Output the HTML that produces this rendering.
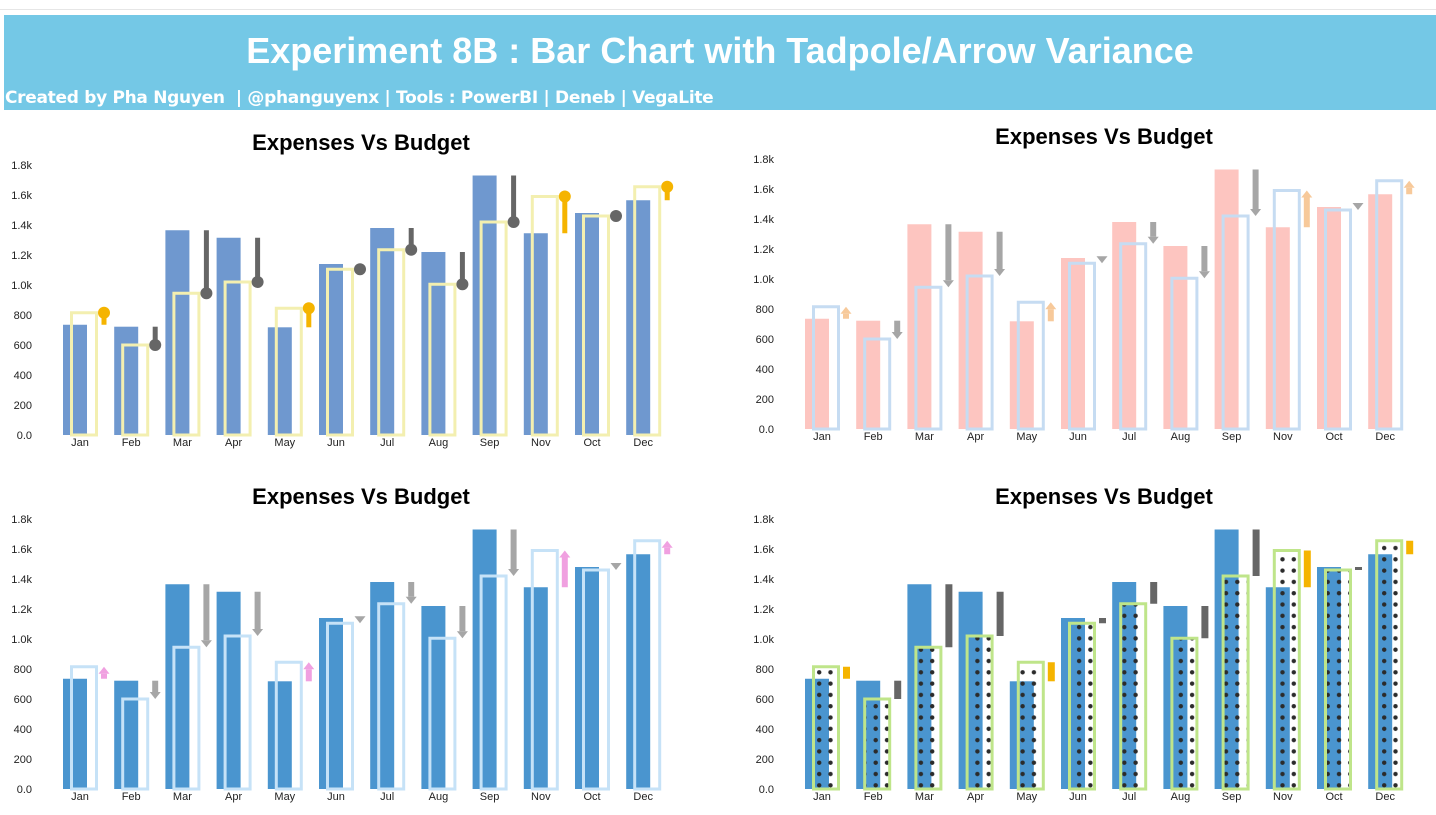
<!DOCTYPE html>
<html><head><meta charset="utf-8">
<style>
html,body{margin:0;padding:0;background:#fff;}
body{width:1436px;height:815px;overflow:hidden;position:relative;font-family:"Liberation Sans",sans-serif;}
#hdr{position:absolute;left:4px;top:15px;width:1432px;height:95px;background:#74c8e6;}
#ttl{position:absolute;left:0;top:15px;width:1432px;text-align:center;color:#fff;font-weight:bold;font-size:36px;font-family:"Liberation Sans",sans-serif;}
#sub{position:absolute;left:1px;top:73px;color:#fff;font-weight:bold;font-size:17px;font-family:"DejaVu Sans","Liberation Sans",sans-serif;letter-spacing:-0.3px;white-space:pre;}
#topline{position:absolute;left:0;top:9px;width:1436px;height:1px;background:#e6e6e6;}
svg{position:absolute;left:0;top:0;}
</style></head>
<body>
<div id="topline"></div>
<div id="hdr">
<div id="ttl">Experiment 8B :  Bar Chart with Tadpole/Arrow Variance</div>
<div id="sub">Created by Pha Nguyen  | @phanguyenx | Tools : PowerBI | Deneb | VegaLite</div>
</div>
<svg id="svg" width="1436" height="815">
<defs>
<pattern id="dots" patternUnits="userSpaceOnUse" width="11.3" height="11.3" x="0" y="0">
<circle cx="5.6" cy="5.6" r="2.2" fill="#2b2b2b"/>
</pattern>
</defs>
</svg>
<script>
const categories=["Jan","Feb","Mar","Apr","May","Jun","Jul","Aug","Sep","Nov","Oct","Dec"];
const expenses=[735,722,1365,1315,718,1140,1380,1220,1730,1345,1480,1565];
const budget=[815,600,945,1020,845,1105,1235,1005,1420,1590,1460,1655];
const tickValues=[0,200,400,600,800,1000,1200,1400,1600,1800];
const tickLabels=["0.0","200","400","600","800","1.0k","1.2k","1.4k","1.6k","1.8k"];

const NS="http://www.w3.org/2000/svg";
const svg=document.getElementById('svg');
function mk(tag,attrs,parent){const e=document.createElementNS(NS,tag);for(const k in attrs)e.setAttribute(k,attrs[k]);(parent||svg).appendChild(e);return e;}

const panels=[
 {type:"tadpole",x0:0,y0:435,tx:361,ty:142,bar:"#6f98cf",bud:"#f3efb0",down:"#666666",up:"#f5b400"},
 {type:"arrow",x0:742,y0:429,tx:1104,ty:136,bar:"#fdc5c0",bud:"#c6dcf2",down:"#a6a6a6",up:"#f7c99a"},
 {type:"arrow",x0:0,y0:789,tx:361,ty:496,bar:"#4a95cf",bud:"#c6e2f7",down:"#a6a6a6",up:"#f0a0e0"},
 {type:"rect",x0:742,y0:789,tx:1104,ty:496,bar:"#4a95cf",bud:"#bfe58a",down:"#666666",up:"#f5b400"}
];
const K=0.15, STEP=51.2;

panels.forEach((p,pi)=>{
 const g=mk('g',{});
 
 
 const y=v=>p.y0-v*K;
 const xb=i=>p.x0+63+i*STEP;
 const t=mk('text',{x:p.tx,y:p.ty+8,'text-anchor':'middle','font-size':'22','font-weight':'bold','font-family':'"Liberation Sans",sans-serif',fill:'#000'},g);
 t.textContent="Expenses Vs Budget";
 
 
 tickValues.forEach((v,k)=>{
  const tl=mk('text',{x:p.x0+32,y:y(v)+4,'text-anchor':'end','font-size':'11',fill:'#222'},g);
  tl.textContent=tickLabels[k];
  
  
 });
 categories.forEach((c,i)=>{
  const bx=xb(i), e=expenses[i], b=budget[i];
  const r=mk('rect',{x:bx,y:y(e),width:24,height:e*K,fill:p.bar},g);
  
  
  const br=mk('rect',{x:bx+8.5,y:y(b),width:25,height:b*K,fill:p.type==="rect"?"url(#dots)":"none",stroke:p.bud,'stroke-width':3},g);
  
  
  const col=b>e?p.up:p.down;
  const mx=bx+41;
  let m;
  if(p.type==="tadpole"){
   m=mk('g',{},g);
   mk('line',{x1:mx,x2:mx,y1:y(e),y2:y(b),stroke:col,'stroke-width':5},m);
   mk('circle',{cx:mx,cy:y(b),r:6,fill:col},m);
  } else if(p.type==="arrow"){
   m=mk('g',{},g);
   const dir=b>e?1:-1;
   const tip=y(b), base=tip+dir*7;
   if((dir*(y(e)-base))>0) mk('line',{x1:mx,x2:mx,y1:y(e),y2:base,stroke:col,'stroke-width':6},m);
   mk('polygon',{points:`${mx-5.5},${base} ${mx+5.5},${base} ${mx},${tip}`,fill:col},m);
  } else {
   m=mk('rect',{x:mx-3,y:Math.min(y(e),y(b)),width:7,height:Math.max(Math.abs(e-b)*K,3),fill:col},g);
  }
  
  
  const xl=mk('text',{x:bx+17,y:p.y0+11,'text-anchor':'middle','font-size':'11',fill:'#222'},g);
  xl.textContent=c;
  
  
 });
});
</script>
</body></html>
